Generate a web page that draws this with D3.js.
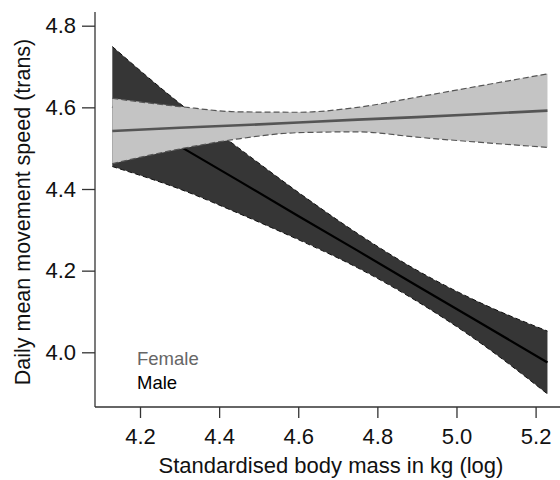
<!DOCTYPE html>
<html>
<head>
<meta charset="utf-8">
<script src="https://cdn.jsdelivr.net/npm/d3@7"></script>
<style>
  body { margin: 0; background: #fff; }
  svg { display: block; font-family: "Liberation Sans", Arial, sans-serif; }
</style>
</head>
<body>
<svg id="chart" width="560" height="480"></svg>
<script>
// ---- data ----
const massX      = [4.13, 4.30, 4.45, 4.60, 4.75, 4.90, 5.05, 5.23];
const maleFit    = [4.602, 4.505, 4.420, 4.334, 4.249, 4.163, 4.078, 3.975];
const maleUpper  = [4.749, 4.610, 4.500, 4.392, 4.291, 4.201, 4.126, 4.052];
const maleLower  = [4.455, 4.400, 4.340, 4.276, 4.207, 4.125, 4.030, 3.898];
const femaleFit   = [4.542, 4.550, 4.556, 4.563, 4.570, 4.576, 4.583, 4.592];
const femaleUpper = [4.622, 4.602, 4.589, 4.588, 4.600, 4.625, 4.651, 4.682];
const femaleLower = [4.462, 4.498, 4.523, 4.538, 4.540, 4.527, 4.515, 4.502];
const xTicks = [4.2, 4.4, 4.6, 4.8, 5.0, 5.2];
const yTicks = [4.0, 4.2, 4.4, 4.6, 4.8];
const legendLabels = ["Female", "Male"];
const xTitle = "Standardised body mass in kg (log)";
const yTitle = "Daily mean movement speed (trans)";

(function () {
const svg = d3.select("#chart");
const x = d3.scaleLinear().domain([4.2, 5.2]).range([140, 535.6]);
const y = d3.scaleLinear().domain([4.0, 4.8]).range([352.3, 25.7]);
const axLeft = 95, axBottom = 407, axTop = 12, axRight = 560;
const fontFam = "'Liberation Sans', Arial, sans-serif";

const rows = (fit, lo, hi) => massX.map((v, i) => ({x: v, fit: fit[i], lo: lo[i], hi: hi[i]}));
const male = rows(maleFit, maleLower, maleUpper);
const female = rows(femaleFit, femaleLower, femaleUpper);

const curve = d3.curveMonotoneX;
const area = d3.area().x(d => x(d.x)).y0(d => y(d.lo)).y1(d => y(d.hi)).curve(curve);
const hiLine = d3.line().x(d => x(d.x)).y(d => y(d.hi)).curve(curve);
const loLine = d3.line().x(d => x(d.x)).y(d => y(d.lo)).curve(curve);
const fitLine = d3.line().x(d => x(d.x)).y(d => y(d.fit));

// male band
svg.append("path").datum(male).attr("d", area).attr("fill", "#363636");
[hiLine, loLine].forEach(l => svg.append("path").datum(male).attr("d", l)
  .attr("fill", "none").attr("stroke", "#111").attr("stroke-width", 1).attr("stroke-dasharray", "5,3"));
svg.append("path").datum(male).attr("d", fitLine)
  .attr("fill", "none").attr("stroke", "#000").attr("stroke-width", 2.2);

// female band
svg.append("path").datum(female).attr("d", area).attr("fill", "#c4c4c4");
[hiLine, loLine].forEach(l => svg.append("path").datum(female).attr("d", l)
  .attr("fill", "none").attr("stroke", "#555").attr("stroke-width", 1.2).attr("stroke-dasharray", "6,3"));
svg.append("path").datum(female).attr("d", fitLine)
  .attr("fill", "none").attr("stroke", "#555").attr("stroke-width", 2.6);

// axes
const axisColor = "#333";
svg.append("line").attr("x1", axLeft).attr("x2", axLeft).attr("y1", axTop).attr("y2", axBottom)
  .attr("stroke", axisColor).attr("stroke-width", 1.3);
svg.append("line").attr("x1", axLeft).attr("x2", axRight).attr("y1", axBottom).attr("y2", axBottom)
  .attr("stroke", axisColor).attr("stroke-width", 1.3);

const xAxis = svg.append("g").attr("transform", `translate(0,${axBottom})`)
  .call(d3.axisBottom(x).tickValues(xTicks).tickFormat(d3.format(".1f")).tickSize(11).tickPadding(10));
xAxis.select(".domain").remove();
xAxis.selectAll("line").attr("stroke", axisColor).attr("stroke-width", 1.3);
xAxis.selectAll("text").attr("font-size", 22).attr("fill", "#111").attr("font-family", fontFam);

const yAxis = svg.append("g").attr("transform", `translate(${axLeft},0)`)
  .call(d3.axisLeft(y).tickValues(yTicks).tickFormat(d3.format(".1f")).tickSize(13).tickPadding(6));
yAxis.select(".domain").remove();
yAxis.selectAll("line").attr("stroke", axisColor).attr("stroke-width", 1.3);
yAxis.selectAll("text").attr("font-size", 22).attr("fill", "#111").attr("font-family", fontFam);

// titles
svg.append("text").attr("x", 331).attr("y", 473).attr("text-anchor", "middle")
  .attr("font-family", fontFam).attr("font-size", 22).attr("fill", "#111").text(xTitle);
svg.append("text").attr("transform", "translate(30,212) rotate(-90)").attr("text-anchor", "middle")
  .attr("font-family", fontFam).attr("font-size", 21.5).attr("fill", "#111").text(yTitle);

// legend
const legendColors = ["#666", "#000"];
legendLabels.forEach((t, i) => {
  svg.append("text").attr("x", 137).attr("y", 364.5 + i * 24)
    .attr("font-family", fontFam).attr("font-size", 18.5).attr("fill", legendColors[i]).text(t);
});
})();
</script>
</body>
</html>
